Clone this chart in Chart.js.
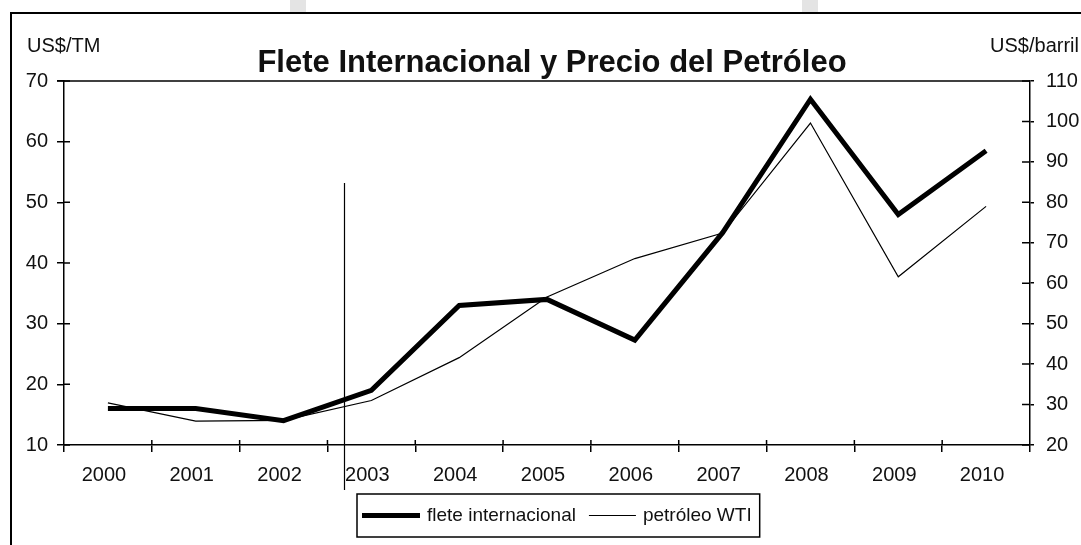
<!DOCTYPE html>
<html>
<head>
<meta charset="utf-8">
<script src="https://cdn.jsdelivr.net/npm/chart.js@4/dist/chart.umd.min.js"></script>
<style>
  html, body { margin: 0; padding: 0; background: #fff; }
  #wrap { width: 1081px; height: 545px; position: relative; }
</style>
</head>
<body>
<div id="wrap"><canvas id="chart"></canvas></div>
<script>
const years = ['2000', '2001', '2002', '2003', '2004', '2005', '2006', '2007', '2008', '2009', '2010'];
const fleteInternacional = [16, 16, 14, 19, 33, 34, 27.3, 45, 67, 48, 58.5];
const petroleoWTI = [30.4, 25.9, 26.1, 31.0, 41.6, 56.6, 66.1, 72.4, 99.6, 61.6, 79];
const leftTicks = { min: 10, max: 70, step: 10 };
const rightTicks = { min: 20, max: 110, step: 10 };
const titleText = 'Flete Internacional y Precio del Petróleo';
const leftUnit = 'US$/TM';
const rightUnit = 'US$/barril';

const FONT = '"Liberation Sans", Arial, sans-serif';
const INK = '#111';

// stray vertical rule that sits between 2002 and 2003 in the source image
const markerIndex = 2.69;
const markerTopValue = 53.2;

const frame = {
  id: 'frame',
  beforeDraw(chart) {
    const { ctx, width, height } = chart;
    ctx.save();
    ctx.fillStyle = '#fff';
    ctx.fillRect(0, 0, width, height);
    // faint watermark blocks above the frame
    ctx.fillStyle = '#e4e4e4';
    ctx.fillRect(290, 0, 16, 13);
    ctx.fillRect(802, 0, 16, 13);
    ctx.strokeStyle = '#000';
    ctx.lineWidth = 2;
    ctx.beginPath();
    ctx.moveTo(11, height);
    ctx.lineTo(11, 13);
    ctx.lineTo(width, 13);
    ctx.stroke();
    ctx.restore();
  },
  afterDraw(chart) {
    const { ctx, chartArea: a, scales } = chart;
    ctx.save();
    ctx.strokeStyle = '#000';
    ctx.lineWidth = 1.5;

    // top edge of the plot box
    ctx.beginPath();
    ctx.moveTo(a.left - 7, a.top);
    ctx.lineTo(a.right, a.top);
    ctx.stroke();

    // inner halves of the tick marks
    ctx.beginPath();
    scales.y.ticks.forEach((t, i) => {
      const py = scales.y.getPixelForTick(i);
      ctx.moveTo(a.left, py);
      ctx.lineTo(a.left + 6, py);
    });
    scales.y1.ticks.forEach((t, i) => {
      const py = scales.y1.getPixelForTick(i);
      ctx.moveTo(a.right - 8, py);
      ctx.lineTo(a.right, py);
    });
    const step = (a.right - a.left) / years.length;
    for (let i = 1; i < years.length; i++) {
      const px = a.left + step * i;
      ctx.moveTo(px, a.bottom);
      ctx.lineTo(px, a.bottom - 5);
    }
    ctx.stroke();

    // stray vertical rule
    const mx = Math.round(scales.x.getPixelForValue(markerIndex)) + 0.5;
    ctx.lineWidth = 1.2;
    ctx.beginPath();
    ctx.moveTo(mx, scales.y.getPixelForValue(markerTopValue));
    ctx.lineTo(mx, a.bottom + 45);
    ctx.stroke();

    // title and unit labels
    ctx.fillStyle = INK;
    ctx.textBaseline = 'alphabetic';
    ctx.font = 'bold 31px ' + FONT;
    ctx.textAlign = 'center';
    ctx.fillText(titleText, 552, 72);
    ctx.font = '20px ' + FONT;
    ctx.textAlign = 'left';
    ctx.fillText(leftUnit, 27, 52);
    ctx.textAlign = 'right';
    ctx.fillText(rightUnit, 1079, 52);

    // legend
    const ds = chart.data.datasets;
    ctx.font = '19px ' + FONT;
    ctx.textAlign = 'left';
    ctx.textBaseline = 'middle';
    const bx = 357, by = 494, bh = 43, cy = by + bh / 2;
    const samples = [58, 47];
    const lead = [5, 13];
    let x = bx;
    ds.forEach((d, i) => {
      x += lead[i];
      ctx.strokeStyle = '#000';
      ctx.lineWidth = d.borderWidth;
      ctx.beginPath();
      ctx.moveTo(x, cy);
      ctx.lineTo(x + samples[i], cy);
      ctx.stroke();
      x += samples[i] + 7;
      ctx.fillText(d.label, x, cy);
      x += ctx.measureText(d.label).width;
    });
    x += 8;
    ctx.lineWidth = 1.5;
    ctx.strokeRect(bx, by, x - bx, bh);
    ctx.restore();
  }
};

new Chart(document.getElementById('chart'), {
  type: 'line',
  data: {
    labels: years,
    datasets: [
      {
        label: 'flete internacional',
        data: fleteInternacional,
        yAxisID: 'y',
        borderColor: '#000',
        backgroundColor: '#000',
        borderWidth: 5,
        borderJoinStyle: 'miter',
        pointRadius: 0,
        tension: 0,
        order: 1,
      },
      {
        label: 'petróleo WTI',
        data: petroleoWTI,
        yAxisID: 'y1',
        borderColor: '#000',
        backgroundColor: '#000',
        borderWidth: 1.2,
        pointRadius: 0,
        tension: 0,
        order: 2,
      },
    ],
  },
  options: {
    responsive: true,
    maintainAspectRatio: false,
    animation: false,
    layout: { padding: { top: 81, left: 0, right: 0, bottom: 0 } },
    plugins: { legend: { display: false }, title: { display: false }, tooltip: { enabled: false } },
    scales: {
      x: {
        offset: true,
        afterFit: (s) => { s.height = 100; },
        grid: { offset: true, drawOnChartArea: false, tickLength: 7, color: '#000', lineWidth: 1.5 },
        border: { color: '#000', width: 1.5 },
        ticks: { color: INK, padding: 11, labelOffset: -4, maxRotation: 0, font: { family: FONT, size: 20 } },
      },
      y: {
        position: 'left',
        min: leftTicks.min,
        max: leftTicks.max,
        afterFit: (s) => { s.width = 64; },
        grid: { drawOnChartArea: false, tickLength: 7, color: '#000', lineWidth: 1.5 },
        border: { color: '#000', width: 1.5 },
        ticks: { stepSize: leftTicks.step, color: INK, padding: 9, font: { family: FONT, size: 20 } },
      },
      y1: {
        position: 'right',
        min: rightTicks.min,
        max: rightTicks.max,
        afterFit: (s) => { s.width = 51; },
        grid: { drawOnChartArea: false, tickLength: 4, color: '#000', lineWidth: 1.5 },
        border: { color: '#000', width: 1.5 },
        ticks: { stepSize: rightTicks.step, color: INK, padding: 12, font: { family: FONT, size: 20 } },
      },
    },
  },
  plugins: [frame],
});
</script>
</body>
</html>
